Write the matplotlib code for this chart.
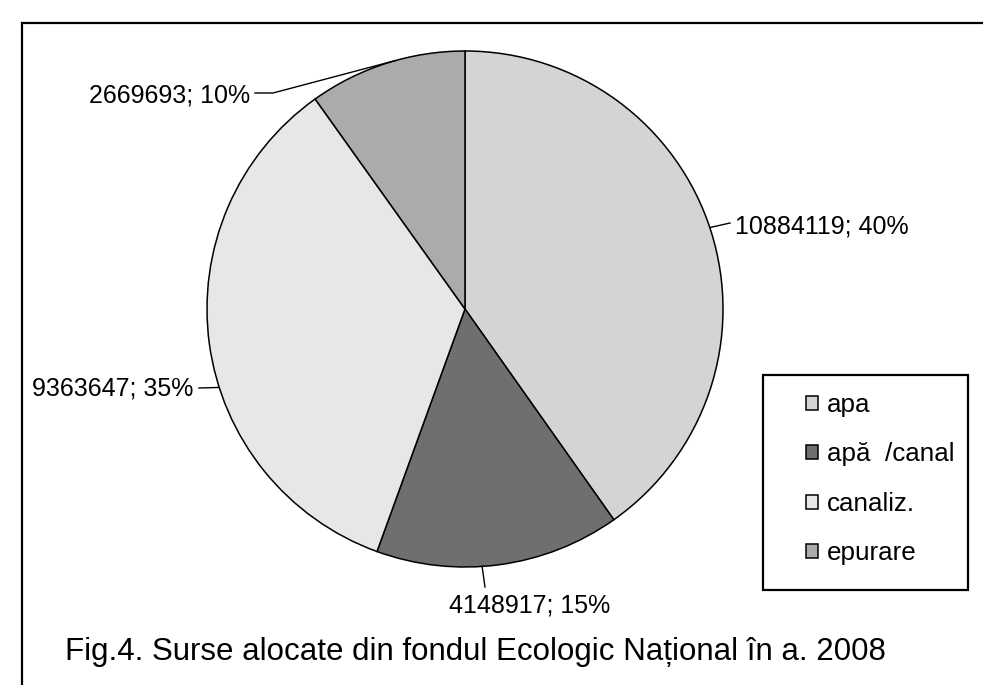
import numpy as np
import matplotlib
matplotlib.use("Agg")
from matplotlib import pyplot as plt
from matplotlib import font_manager
from matplotlib.patches import Rectangle

# data
categories = ["apa", "apă  /canal", "canaliz.", "epurare"]
values = [10884119, 4148917, 9363647, 2669693]
colors = ["#d3d4d6", "#6e6f71", "#e6e7e9", "#aaabad"]
title = "Fig.4. Surse alocate din fondul Ecologic Național în a. 2008"

W, H = 983, 685

def Y(y):
    # pixel rows from the top -> data coords
    return H - y

# narrow font for the data labels if it exists
try:
    font_manager.findfont(font_manager.FontProperties(family="Liberation Sans Narrow"),
                          fallback_to_default=False)
    lab_family, lab_size = ["Liberation Sans Narrow", "DejaVu Sans"], 20.7
except Exception:
    lab_family, lab_size = ["Liberation Sans", "DejaVu Sans"], 18.0

plt.rcParams["font.family"] = ["Liberation Sans", "DejaVu Sans"]

fig = plt.figure(figsize=(W / 100, H / 100), dpi=100)
ax = fig.add_axes([0, 0, 1, 1])

cx, cy, r = 465, Y(309), 258
wedges, _ = ax.pie(values, colors=colors, startangle=90, counterclock=False,
                   center=(cx, cy), radius=r,
                   wedgeprops=dict(edgecolor="black", linewidth=1.1))
ax.set_xlim(0, W)
ax.set_ylim(0, H)
ax.set_aspect("equal")
ax.axis("off")

# outer frame (only left and top edges visible in the picture)
ax.add_patch(Rectangle((22, -20), W + 40, Y(23) + 20, fill=False,
                       edgecolor="black", linewidth=1.6, clip_on=False))

total = float(sum(values))
# layout of the data labels: attach angle, leader bend points, text anchor
layout = [
    dict(ang=18.4, pts=[(730, 223)], xy=(735, 233), ha="left"),
    dict(ang=-86.2, pts=[(485, 587)], xy=(530, 613), ha="center"),
    dict(ang=197.7, pts=[(199, 388)], xy=(193, 395), ha="right"),
    dict(ang=105.7, pts=[(273, 93), (255, 93)], xy=(250, 102), ha="right"),
]
for v, lay in zip(values, layout):
    a = np.deg2rad(lay["ang"])
    xs = [cx + r * np.cos(a)] + [p[0] for p in lay["pts"]]
    ys = [cy + r * np.sin(a)] + [Y(p[1]) for p in lay["pts"]]
    ax.plot(xs, ys, color="black", linewidth=1.0)
    txt = "%d; %d%%" % (v, round(100 * v / total))
    ax.text(lay["xy"][0], Y(lay["xy"][1]), txt, ha=lay["ha"], va="baseline",
            fontsize=lab_size, family=lab_family)

# legend: frame drawn separately
ax.add_patch(Rectangle((763, Y(590)), 968 - 763, 590 - 375, fill=False,
                       edgecolor="black", linewidth=1.6))
leg = ax.legend(wedges, categories, loc="upper left",
                bbox_to_anchor=(806, Y(393)), bbox_transform=ax.transData,
                frameon=False, borderpad=0, borderaxespad=0,
                handlelength=0.45, handleheight=0.45, handletextpad=0.35,
                labelspacing=0.98, fontsize=18.7)

ax.text(65, Y(660), title, ha="left", va="baseline", fontsize=22.5)

fig.savefig("out.png", dpi=100)
